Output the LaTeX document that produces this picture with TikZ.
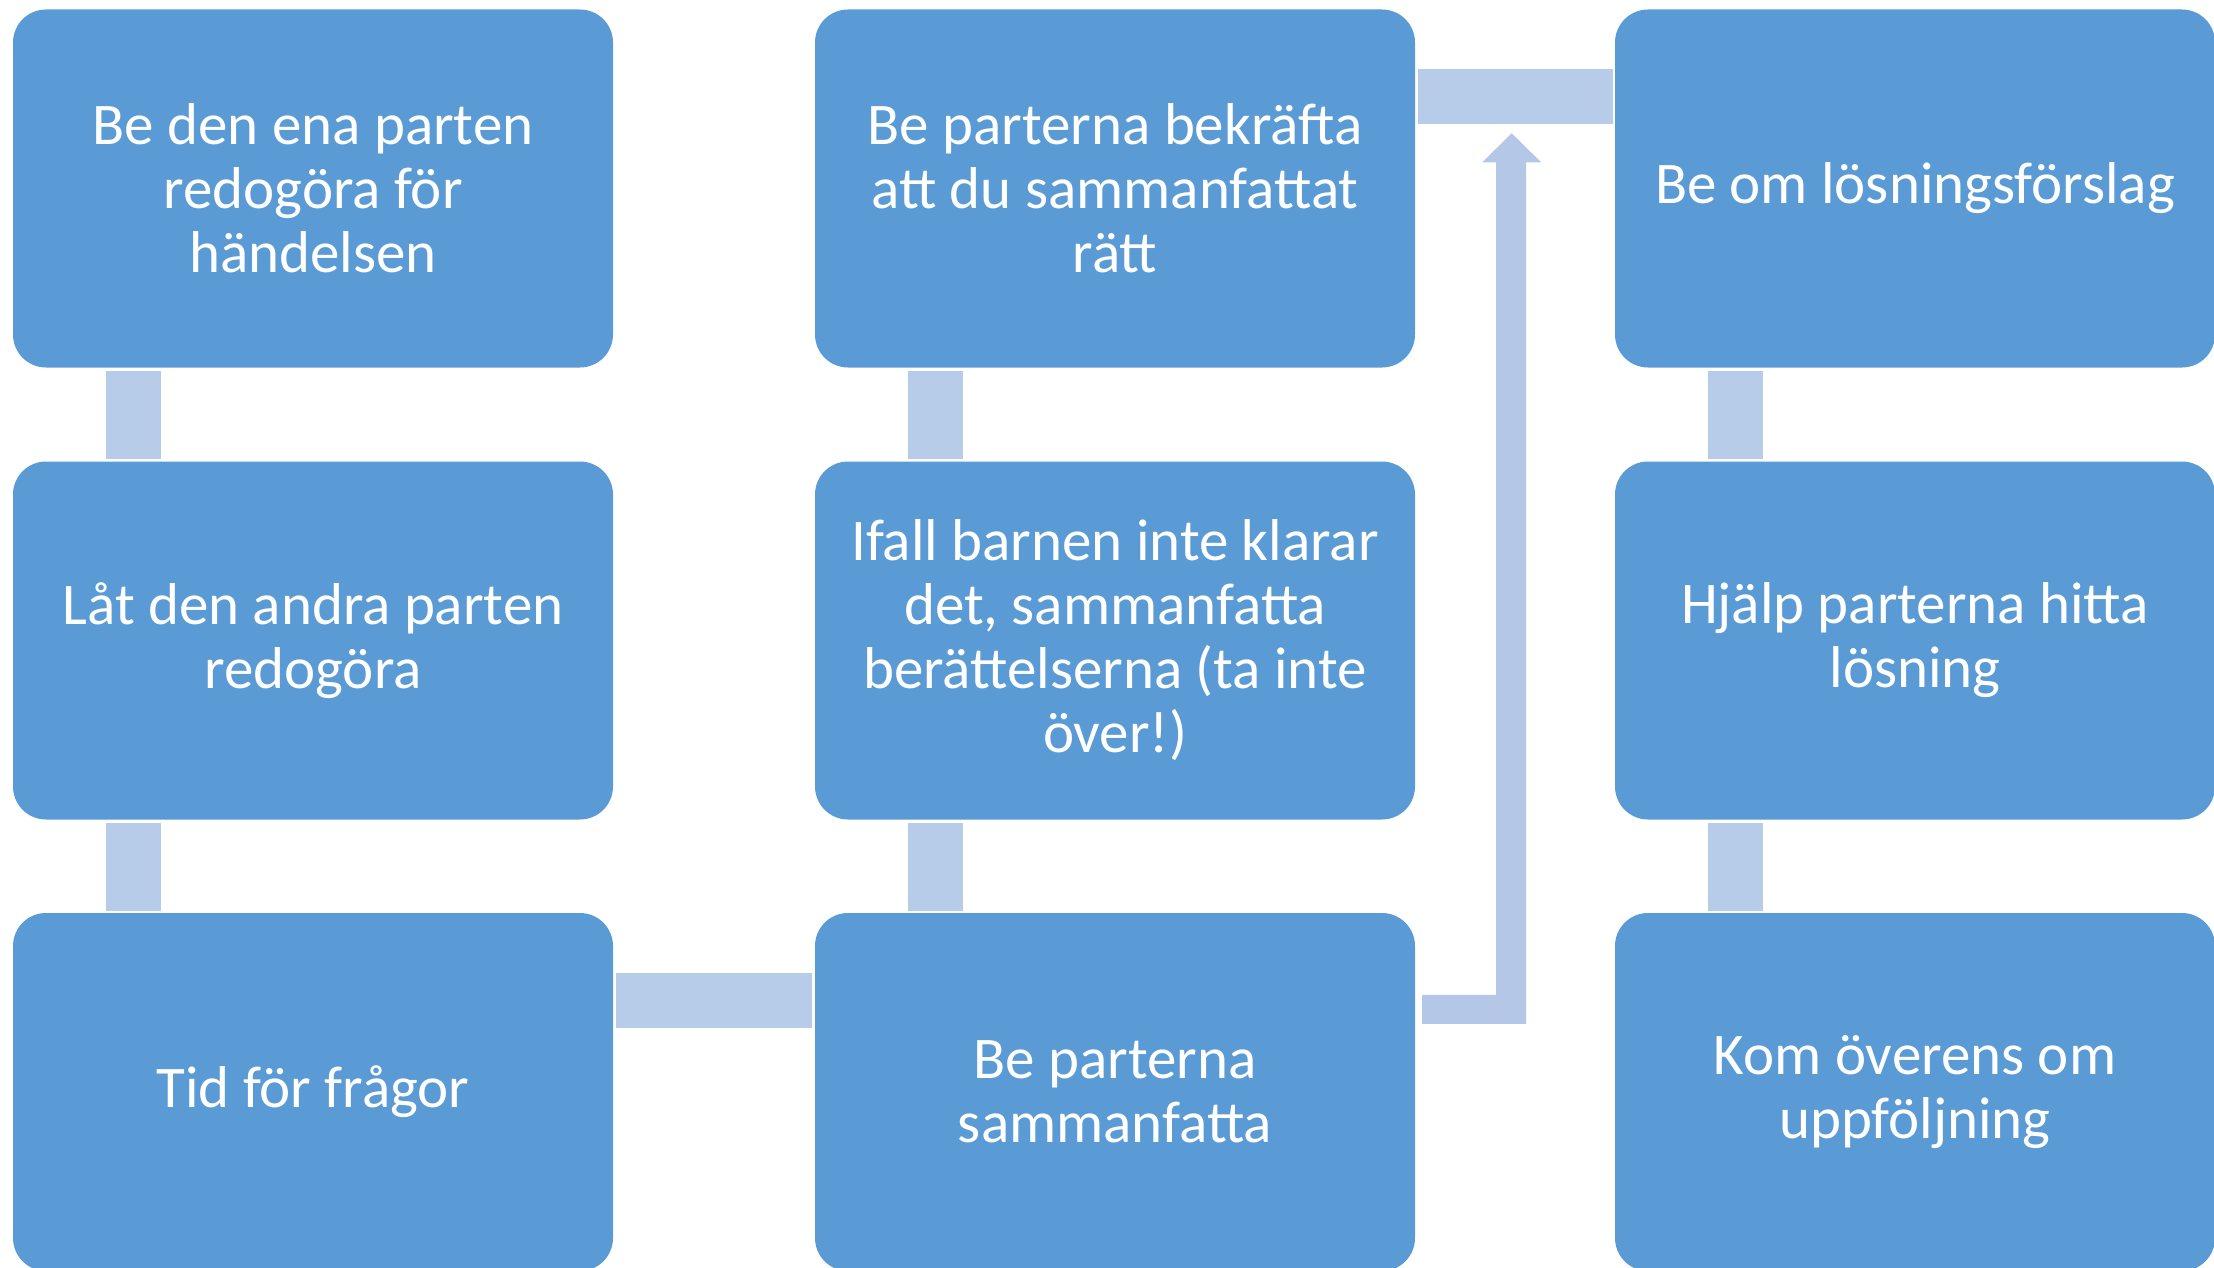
\documentclass[tikz,border=0pt]{standalone}
\usepackage{fontspec}
\setmainfont{Carlito}
\usetikzlibrary{calc}
\definecolor{boxblue}{HTML}{5B9BD5}
\definecolor{connblue}{HTML}{B7CCE8}
\definecolor{arrowblue}{HTML}{B4C7E7}
\tikzset{
  stepbox/.style={fill=boxblue, draw=none, rounded corners=33pt, minimum width=600pt, minimum height=358pt, inner sep=0pt, text=white, align=center, font=\fontsize{59}{64}\selectfont},
  conn/.style={draw=connblue, line width=55pt},
  arrowfill/.style={fill=arrowblue, draw=none}
}
\begin{document}
\begin{tikzpicture}[x=1pt,y=-1pt]
\useasboundingbox (0,0) rectangle (2214,1268);
\node[stepbox] (b11) at (313,188.5) {Be den ena parten\\redogöra för\\händelsen};
\node[stepbox] (b21) at (313,640.5) {Låt den andra parten\\redogöra};
\node[stepbox] (b31) at (313,1092) {Tid för frågor};
\node[stepbox] (b32) at (1115,1092) {Be parterna\\sammanfatta};
\node[stepbox] (b22) at (1115,640.5) {Ifall barnen inte klarar\\det, sammanfatta\\berättelserna (ta inte\\över!)};
\node[stepbox] (b12) at (1115,188.5) {Be parterna bekräfta\\att du sammanfattat\\rätt};
\node[stepbox] (b13) at (1915,188.5) {Be om lösningsförslag};
\node[stepbox] (b23) at (1915,640.5) {Hjälp parterna hitta\\lösning};
\node[stepbox] (b33) at (1915,1092) {Kom överens om\\uppföljning};
% vertical connectors
\draw[conn] ($(b11.south west)+(120.5,3)$) -- ($(b21.north west)+(120.5,-2)$);
\draw[conn] ($(b21.south west)+(120.5,3)$) -- ($(b31.north west)+(120.5,-2)$);
\draw[conn] ($(b32.north west)+(120.5,-2)$) -- ($(b22.south west)+(120.5,3)$);
\draw[conn] ($(b22.north west)+(120.5,-2)$) -- ($(b12.south west)+(120.5,3)$);
\draw[conn] ($(b13.south west)+(120.5,3)$) -- ($(b23.north west)+(120.5,-2)$);
\draw[conn] ($(b23.south west)+(120.5,3)$) -- ($(b33.north west)+(120.5,-2)$);
% horizontal connectors
\draw[conn] ($(b31.north east)+(3,87.5)$) -- ($(b32.north west)+(-3,87.5)$);
\draw[conn] ($(b12.north east)+(3,87.5)$) -- ($(b13.north west)+(-2,87.5)$);
% elbow arrow from b32 up to row 1
\fill[arrowfill] ($(b32.north east)+(7,82)$) -- ($(b32.north east)+(81,82)$)
  -- ($(b12.north east)+(81,153)$) -- ($(b12.north east)+(67,153)$)
  -- ($(b12.north east)+(96.5,124)$) -- ($(b12.north east)+(126,153)$)
  -- ($(b12.north east)+(111,153)$) -- ($(b32.north east)+(111,111)$)
  -- ($(b32.north east)+(7,111)$) -- cycle;
\end{tikzpicture}
\end{document}
